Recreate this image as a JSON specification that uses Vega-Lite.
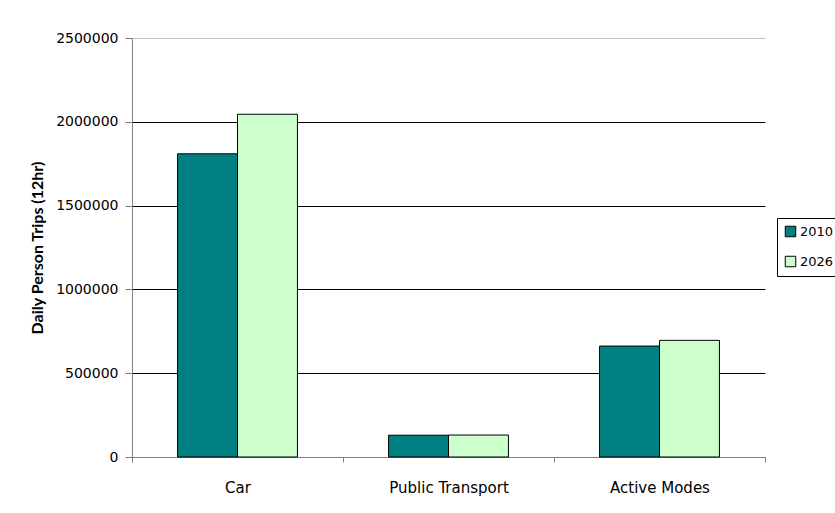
{
  "$schema": "https://vega.github.io/schema/vega-lite/v6.json",
  "autosize": "none",
  "width": 633,
  "height": 419,
  "padding": {"left": 132, "top": 38, "right": 70, "bottom": 56},
  "background": "white",
  "data": {
    "values": [
      {"mode": "Car", "year": "2010", "trips": 1809000},
      {"mode": "Car", "year": "2026", "trips": 2045000},
      {"mode": "Public Transport", "year": "2010", "trips": 130000},
      {"mode": "Public Transport", "year": "2026", "trips": 131000},
      {"mode": "Active Modes", "year": "2010", "trips": 662000},
      {"mode": "Active Modes", "year": "2026", "trips": 696000}
    ]
  },
  "mark": {"type": "bar", "stroke": "black", "strokeWidth": 1},
  "encoding": {
    "x": {
      "field": "mode",
      "type": "nominal",
      "sort": ["Car", "Public Transport", "Active Modes"],
      "scale": {"paddingInner": 0, "paddingOuter": 0},
      "axis": {
        "title": null,
        "labelAngle": 0,
        "tickBand": "extent",
        "tickSize": 5,
        "tickColor": "#808080",
        "domainColor": "#808080",
        "labelPadding": 18,
        "labelFont": "DejaVu Sans",
        "labelFontSize": 15,
        "labelColor": "black"
      }
    },
    "xOffset": {
      "field": "year",
      "type": "nominal",
      "scale": {"paddingInner": 0, "paddingOuter": 0.76}
    },
    "y": {
      "field": "trips",
      "type": "quantitative",
      "scale": {"domain": [0, 2500000], "nice": false},
      "axis": {
        "title": "Daily Person Trips (12hr)",
        "titleFont": "Lato",
        "titleFontWeight": "bold",
        "titleFontSize": 16,
        "titleColor": "black",
        "titlePadding": 10,
        "values": [0, 500000, 1000000, 1500000, 2000000, 2500000],
        "format": "d",
        "tickSize": 7,
        "tickColor": "#808080",
        "domainColor": "#808080",
        "labelPadding": 7,
        "labelFont": "DejaVu Sans",
        "labelFontSize": 14,
        "labelColor": "black",
        "grid": true,
        "gridColor": {"condition": {"test": "datum.value == 2500000", "value": "#c0c0c0"}, "value": "black"},
        "gridOpacity": 1
      }
    },
    "color": {
      "field": "year",
      "type": "nominal",
      "scale": {"domain": ["2010", "2026"], "range": ["#008080", "#CCFFCC"]},
      "legend": {
        "title": null,
        "orient": "none",
        "legendX": 645,
        "legendY": 180,
        "strokeColor": "black",
        "padding": 7,
        "symbolType": "square",
        "symbolSize": 110,
        "symbolStrokeColor": "black",
        "symbolStrokeWidth": 1,
        "symbolOpacity": 1,
        "labelFont": "DejaVu Sans",
        "labelFontSize": 13,
        "labelOffset": 3,
        "labelColor": "black",
        "rowPadding": 15,
        "fillColor": "white"
      }
    }
  },
  "config": {"view": {"stroke": null}}
}
